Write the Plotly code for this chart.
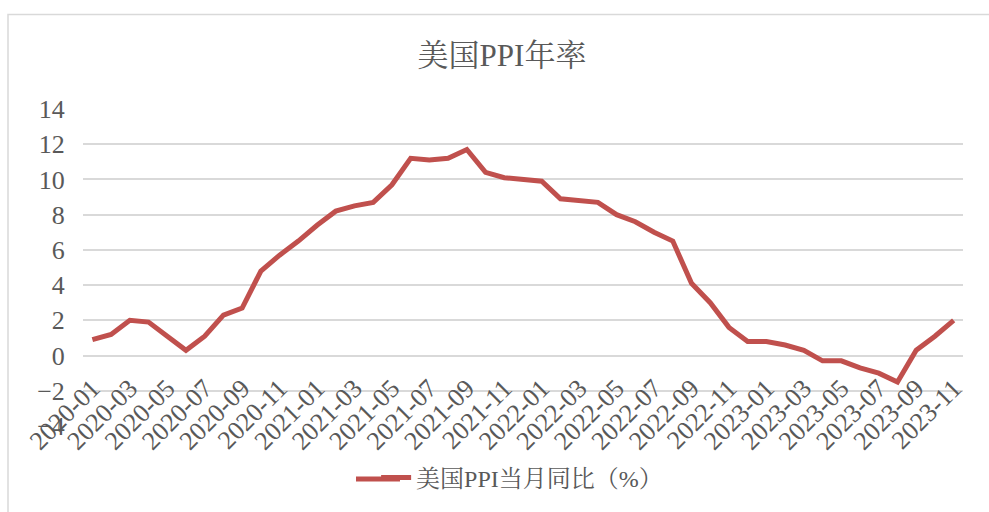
import plotly.graph_objects as go

months = [
    "2020-01", "2020-02", "2020-03", "2020-04", "2020-05", "2020-06",
    "2020-07", "2020-08", "2020-09", "2020-10", "2020-11", "2020-12",
    "2021-01", "2021-02", "2021-03", "2021-04", "2021-05", "2021-06",
    "2021-07", "2021-08", "2021-09", "2021-10", "2021-11", "2021-12",
    "2022-01", "2022-02", "2022-03", "2022-04", "2022-05", "2022-06",
    "2022-07", "2022-08", "2022-09", "2022-10", "2022-11", "2022-12",
    "2023-01", "2023-02", "2023-03", "2023-04", "2023-05", "2023-06",
    "2023-07", "2023-08", "2023-09", "2023-10", "2023-11",
]
ppi_yoy = [
    0.9, 1.2, 2.0, 1.9, 1.1, 0.3,
    1.1, 2.3, 2.7, 4.8, 5.7, 6.5,
    7.4, 8.2, 8.5, 8.7, 9.7, 11.2,
    11.1, 11.2, 11.7, 10.4, 10.1, 10.0,
    9.9, 8.9, 8.8, 8.7, 8.0, 7.6,
    7.0, 6.5, 4.1, 3.0, 1.6, 0.8,
    0.8, 0.6, 0.3, -0.3, -0.3, -0.7,
    -1.0, -1.5, 0.3, 1.1, 2.0,
]
y_ticks = [-4, -2, 0, 2, 4, 6, 8, 10, 12, 14]
x_tick_labels = months[::2]

series_name = "美国PPI当月同比（%）"
title_text = "美国PPI年率"

FONT = "Liberation Serif, Noto Serif CJK SC, Noto Sans CJK SC, serif"
GREY = "#595959"
GRID = "#D9D9D9"
LINE = "#C0504D"

fig = go.Figure()
fig.add_trace(go.Scatter(
    x=months, y=ppi_yoy, mode="lines", name=series_name,
    line=dict(color=LINE, width=5),
))

y_min, y_max = y_ticks[0], y_ticks[-1]

fig.update_layout(
    width=989, height=512,
    paper_bgcolor="white", plot_bgcolor="white",
    margin=dict(l=83, r=26, t=109, b=86, autoexpand=False),
    font=dict(family=FONT, color=GREY, size=26),
    title=dict(text=title_text, x=0.5076, xanchor="center", y=1 - 55 / 512,
               yanchor="middle", font=dict(family=FONT, size=31, color=GREY)),
    showlegend=True,
    legend=dict(orientation="h", x=0.499, xanchor="center", y=-0.164, yanchor="middle",
                font=dict(family=FONT, size=24, color=GREY), bgcolor="rgba(0,0,0,0)"),
    xaxis=dict(
        type="category", range=[-0.5, len(months) - 0.5],
        tickmode="array", tickvals=x_tick_labels, ticktext=x_tick_labels,
        tickangle=-45, showgrid=False, showline=False, zeroline=False,
        anchor="free", position=(0 - y_min) / (y_max - y_min),
        ticks="outside", ticklen=6, tickcolor="rgba(0,0,0,0)",
        tickfont=dict(family=FONT, size=26, color=GREY), automargin=False,
    ),
    yaxis=dict(
        range=[y_min, y_max], tickmode="array", tickvals=y_ticks,
        showgrid=True, gridcolor=GRID, gridwidth=1.5, zeroline=False, showline=False,
        ticks="outside", ticklen=12, tickcolor="rgba(0,0,0,0)",
        tickfont=dict(family=FONT, size=26, color=GREY), automargin=False,
    ),
)

# outer chart border (Excel chart area frame)
pw, ph = 880.0, 317.0
def px_to_paper_x(px):
    return (px - 83) / pw
def px_to_paper_y(py):
    return (426 - py) / ph

fig.add_shape(type="path", xref="paper", yref="paper",
              path=f"M {px_to_paper_x(8)} {px_to_paper_y(530)} L {px_to_paper_x(8)} {px_to_paper_y(14.5)} L {px_to_paper_x(1000)} {px_to_paper_y(14.5)}",
              line=dict(color=GRID, width=1.5), layer="below")

# longer legend key line, as in the Excel legend
fig.add_shape(type="line", xref="paper", yref="paper",
              x0=px_to_paper_x(356), x1=px_to_paper_x(400),
              y0=px_to_paper_y(479), y1=px_to_paper_y(479),
              line=dict(color=LINE, width=5))

fig.write_html("out.html", config={"displayModeBar": False},
               post_script="document.body.style.margin='0';")
